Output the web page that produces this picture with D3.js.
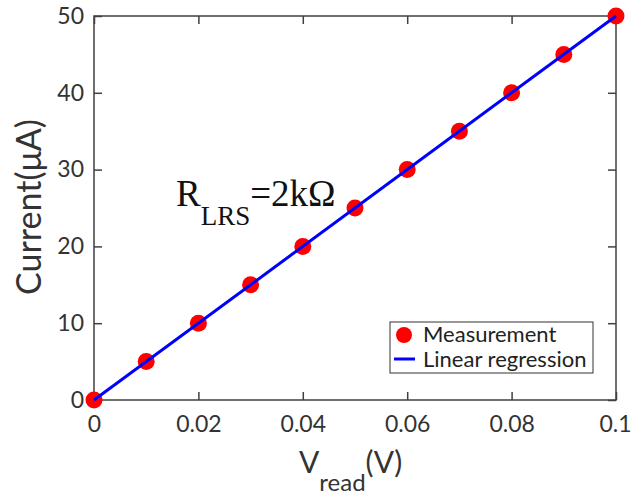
<!DOCTYPE html>
<html><head><meta charset="utf-8">
<script src="https://cdn.jsdelivr.net/npm/d3@7"></script>
<style>body{margin:0;background:#fff}svg{display:block}</style>
</head><body>
<svg id="c" width="631" height="495"></svg>
<script>
const voltage = [0, 0.01, 0.02, 0.03, 0.04, 0.05, 0.06, 0.07, 0.08, 0.09, 0.1];
const current = [0, 5, 10, 15, 20, 25, 30, 35, 40, 45, 50];
const fitX = [0, 0.1];
const fitY = [0, 50];
const xTicks = [0, 0.02, 0.04, 0.06, 0.08, 0.1];
const yTicks = [0, 10, 20, 30, 40, 50];
const legendLabels = ["Measurement", "Linear regression"];

const svg = d3.select("#c");
const L = 94, R = 616, T = 16, B = 400;
const x = d3.scaleLinear().domain([0, 0.1]).range([L, R]);
const y = d3.scaleLinear().domain([0, 50]).range([B, T]);
const font = "Lato, 'Open Sans', sans-serif";
const axisCol = "#404040";
const tl = 8;

// frame
svg.append("rect").attr("x", L).attr("y", T).attr("width", R - L).attr("height", B - T)
  .attr("fill", "none").attr("stroke", axisCol).attr("stroke-width", 1.5);

const fmt = d => d === 0 ? "0" : d3.format("~g")(d);
const gx = svg.append("g").attr("transform", `translate(0,${B})`)
  .call(d3.axisBottom(x).tickValues(xTicks).tickSize(-tl).tickPadding(tl + 8).tickFormat(fmt));
const gxt = svg.append("g").attr("transform", `translate(0,${T})`)
  .call(d3.axisTop(x).tickValues(xTicks).tickSize(-tl).tickFormat(""));
const gy = svg.append("g").attr("transform", `translate(${L},0)`)
  .call(d3.axisLeft(y).tickValues(yTicks).tickSize(-tl).tickPadding(tl + 2).tickFormat(fmt));
const gyr = svg.append("g").attr("transform", `translate(${R},0)`)
  .call(d3.axisRight(y).tickValues(yTicks).tickSize(-tl).tickFormat(""));
[gx, gxt, gy, gyr].forEach(g => {
  g.select(".domain").remove();
  g.selectAll(".tick line").attr("stroke", axisCol).attr("stroke-width", 1.5);
  g.selectAll("text").attr("fill", "#333").style("font-family", font).style("font-size", "23px");
});
gx.selectAll("text").attr("dy", "0.71em");
// keep the last label inside the page edge
gx.selectAll(".tick").filter(d => d === 0.1).select("text").attr("text-anchor", "end").attr("x", 15);

// points
svg.append("g").selectAll("circle").data(voltage).join("circle")
  .attr("cx", d => x(d)).attr("cy", (d, i) => y(current[i])).attr("r", 8.5)
  .attr("fill", "#ff0000");
// regression line on top
svg.append("line")
  .attr("x1", x(fitX[0])).attr("y1", y(fitY[0]))
  .attr("x2", x(fitX[1])).attr("y2", y(fitY[1]))
  .attr("stroke", "#0000ff").attr("stroke-width", 3);

// annotation
const ann = svg.append("text").attr("x", 176).attr("y", 206)
  .style("font-family", "'Liberation Serif', 'DejaVu Serif', serif").style("font-size", "37px").attr("fill", "#111");
ann.append("tspan").text("R");
ann.append("tspan").attr("dy", 19).style("font-size", "27px").text("LRS");
ann.append("tspan").attr("dy", -19).text("=2kΩ");

// y label
svg.append("text").attr("transform", "translate(41,207) rotate(-90)")
  .attr("text-anchor", "middle").style("font-family", font).style("font-size", "34px").attr("fill", "#333")
  .text("Current(μA)");
// x label
const xl = svg.append("text").attr("x", 299).attr("y", 473)
  .style("font-family", font).style("font-size", "30px").attr("fill", "#333");
xl.append("tspan").text("V");
xl.append("tspan").attr("dy", 18).style("font-size", "24px").text("read");
xl.append("tspan").attr("dy", -18).text("(V)");

// legend
const lg = svg.append("g");
lg.append("rect").attr("x", 390).attr("y", 322).attr("width", 203).attr("height", 51)
  .attr("fill", "#fff").attr("stroke", "#333").attr("stroke-width", 1);
lg.append("circle").attr("cx", 404).attr("cy", 335).attr("r", 8).attr("fill", "#ff0000");
lg.append("line").attr("x1", 394).attr("x2", 415).attr("y1", 359).attr("y2", 359)
  .attr("stroke", "#0000ff").attr("stroke-width", 3);
lg.selectAll("text.l").data(legendLabels).join("text").attr("class", "l")
  .attr("x", 423).attr("y", (d, i) => 342 + i * 25)
  .style("font-family", font).style("font-size", "22px").attr("fill", "#222").text(d => d);
</script>
</body></html>
